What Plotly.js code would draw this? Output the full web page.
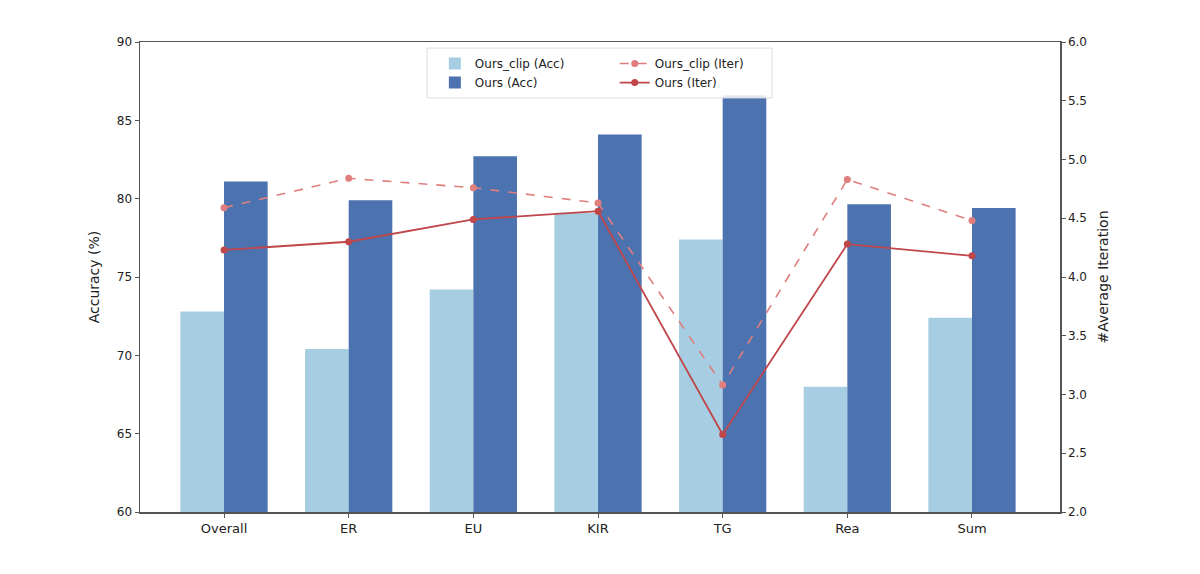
<!DOCTYPE html>
<html><head><meta charset="utf-8">
<script src="https://cdn.plot.ly/plotly-3.0.1.min.js"></script>
<style>body{margin:0;background:#fff}#chart{width:1200px;height:574px}</style>
</head><body><div id="chart"></div>
<script>
const categories = ["Overall","ER","EU","KIR","TG","Rea","Sum"];
const clipAcc = [72.8, 70.4, 74.2, 79.1, 77.4, 68.0, 72.4];
const oursAcc = [81.1, 79.9, 82.7, 84.1, 86.6, 79.65, 79.4];
const clipIter = [4.59, 4.84, 4.76, 4.63, 3.08, 4.83, 4.48];
const oursIter = [4.23, 4.30, 4.49, 4.56, 2.66, 4.28, 4.18];

const idx = categories.map((_, i) => i);
const font = "DejaVu Sans, Liberation Sans, sans-serif";

const traces = [
  {type:'bar', name:'Ours_clip (Acc)', x:idx, y:clipAcc, width:0.35, offset:-0.35,
   marker:{color:'#a6cde2'}, legend:'legend', legendrank:1, hoverinfo:'skip'},
  {type:'bar', name:'Ours (Acc)', x:idx, y:oursAcc, width:0.35, offset:0,
   marker:{color:'#4c72b0'}, legend:'legend', legendrank:2, hoverinfo:'skip'},
  {type:'scatter', mode:'lines+markers', name:'Ours_clip (Iter)', x:idx, y:clipIter, yaxis:'y2',
   line:{color:'#e07e7e', dash:'dash', width:1.6}, marker:{color:'#e07e7e', size:7}, legend:'legend2', legendrank:1},
  {type:'scatter', mode:'lines+markers', name:'Ours (Iter)', x:idx, y:oursIter, yaxis:'y2',
   line:{color:'#c0464a', width:1.8}, marker:{color:'#c0464a', size:7}, legend:'legend2', legendrank:2}
];

const axLine = '#555';
const layout = {
  width:1200, height:574,
  margin:{l:140, r:140, t:42, b:62},
  paper_bgcolor:'#fff', plot_bgcolor:'#fff',
  font:{family:font, color:'#222', size:12},
  showlegend:true,
  xaxis:{range:[-0.674, 6.706], tickvals:idx, ticktext:categories, showgrid:false, zeroline:false,
    showline:true, mirror:true, linecolor:axLine, linewidth:1.5, ticks:'outside', ticklen:4, tickcolor:axLine,
    tickfont:{size:13}},
  yaxis:{range:[60,90], dtick:5, tick0:60, showgrid:false, zeroline:false, showline:true, linecolor:axLine, linewidth:1.5,
    ticks:'outside', ticklen:4, tickcolor:axLine, tickfont:{size:12},
    title:{text:'Accuracy (%)', font:{size:14}, standoff:14}},
  yaxis2:{overlaying:'y', side:'right', range:[2,6], dtick:0.5, tick0:2, tickformat:'.1f', showgrid:false, zeroline:false,
    showline:true, linecolor:axLine, linewidth:1.5, ticks:'outside', ticklen:4, tickcolor:axLine, tickfont:{size:12},
    title:{text:'#Average Iteration', font:{size:14}, standoff:12}},
  legend:{x:0.3205, y:0.985, xanchor:'left', yanchor:'top', bgcolor:'rgba(0,0,0,0)', font:{size:12},
    tracegroupgap:0, itemwidth:30},
  legend2:{x:0.516, y:0.985, xanchor:'left', yanchor:'top', bgcolor:'rgba(0,0,0,0)', font:{size:12},
    tracegroupgap:0, itemwidth:30},
  shapes:[{type:'rect', xref:'paper', yref:'paper', x0:0.312, x1:0.687, y0:0.881, y1:0.987,
    fillcolor:'rgba(255,255,255,0.85)', line:{color:'#ddd', width:1}, layer:'above'}]
};

Plotly.newPlot('chart', traces, layout, {staticPlot:true});
</script>
</body></html>
